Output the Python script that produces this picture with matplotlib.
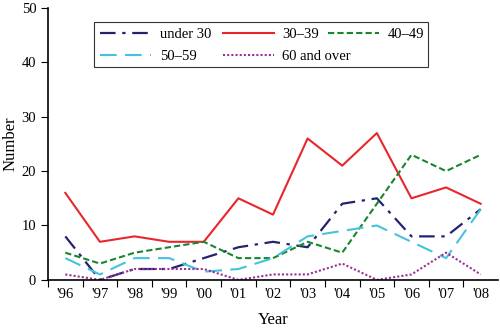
import matplotlib
matplotlib.use("Agg")
import matplotlib.pyplot as plt
from matplotlib.patches import Rectangle

years = ["'96", "'97", "'98", "'99", "'00", "'01", "'02", "'03", "'04", "'05", "'06", "'07", "'08"]
under_30 = [8, 0, 2, 2, 4, 6, 7, 6, 14, 15, 8, 8, 13]
age_30_39 = [16, 7, 8, 7, 7, 15, 12, 26, 21, 27, 15, 17, 14]
age_40_49 = [5, 3, 5, 6, 7, 4, 4, 7, 5, 14, 23, 20, 23]
age_50_59 = [4, 1, 4, 4, 1.5, 2, 4, 8, 9, 10, 7, 4, 13]
age_60_plus = [1, 0, 2, 2, 2, 0, 1, 1, 3, 0, 1, 5, 1]

plt.rcParams["font.family"] = ["Liberation Serif", "DejaVu Serif"]

W, H = 500, 332
fig = plt.figure(figsize=(W / 100, H / 100), dpi=100)
ax = fig.add_axes([0.096, 0.157, 0.90, 0.819])

x = range(len(years))
l1, = ax.plot(x, under_30, color="#232372", lw=1.6, linestyle=(0, (7, 3, 1.5, 3)), label="under 30")
l2, = ax.plot(x, age_30_39, color="#e8262b", lw=1.5, label="30\u201339")
l3, = ax.plot(x, age_40_49, color="#17872e", lw=1.5, linestyle=(0, (3, 1.5)), label="40\u201349")
l4, = ax.plot(x, age_50_59, color="#45c3dc", lw=1.5, linestyle=(0, (8, 4)), label="50\u201359")
l5, = ax.plot(x, age_60_plus, color="#9a2f9a", lw=1.5, linestyle=(0, (1, 1)), label="60 and over")

# legend: a 2x2 grid plus "40-49" tucked in at the end of the first row, one shared frame
leg_kw = dict(loc="upper left", borderaxespad=0, fontsize=10.5, frameon=False,
              handlelength=3.5, columnspacing=0.8, handletextpad=0.6,
              borderpad=0.4, labelspacing=0.6)
grid = [l1, l4, l2, l5]
leg_a = fig.legend(handles=grid, labels=[h.get_label() for h in grid], ncol=2,
                   bbox_to_anchor=(94 / W, 1 - 22 / H), **leg_kw)
leg_b = fig.legend(handles=[l3], labels=[l3.get_label()], ncol=1,
                   bbox_to_anchor=(322 / W, 1 - 22 / H), **leg_kw)
frame = Rectangle((94 / W, 1 - 67 / H), 334 / W, 45 / H, transform=fig.transFigure,
                  fill=False, edgecolor="#333333", linewidth=0.8)
fig.add_artist(frame)

ax.set_xlim(-0.5, 12.5)
ax.set_ylim(0, 50)
ax.set_xticks([i - 0.5 for i in range(13)])
ax.set_xticklabels([])
ax.set_xticks(list(x), minor=True)
ax.set_xticklabels(years, minor=True)
ax.tick_params(axis="x", which="minor", length=0, pad=6, labelsize=10.5)
ax.tick_params(axis="x", which="major", length=5, direction="out")
ax.set_yticks([0, 10, 20, 30, 40, 50])
ax.tick_params(axis="y", length=5, direction="out", labelsize=10.5)

for side in ["top", "right"]:
    ax.spines[side].set_visible(False)
for side in ["left", "bottom"]:
    ax.spines[side].set_linewidth(1.2)

ax.set_xlabel("Year", fontsize=12, labelpad=8)
ax.set_ylabel("Number", fontsize=12, labelpad=2)

fig.savefig("out.png", dpi=100)
